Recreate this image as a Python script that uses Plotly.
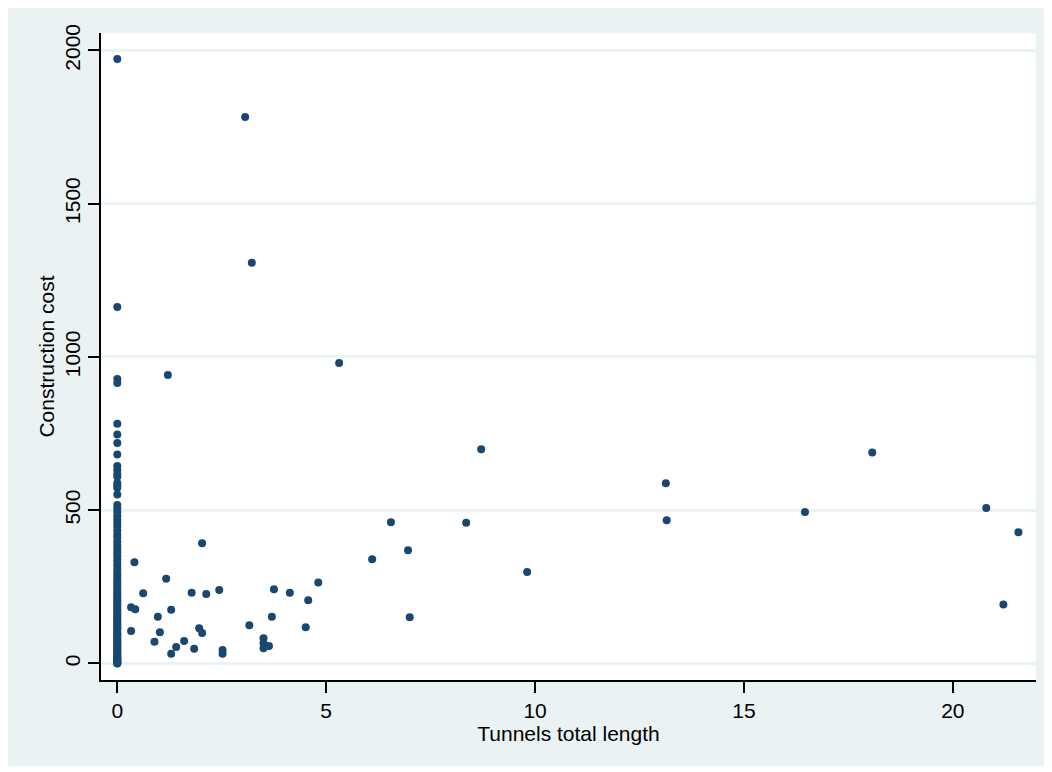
import plotly.graph_objects as go

# Points with zero tunnel length (x = 0)
zero_len_cost = [1972, 1163, 928, 915, 782, 747, 719, 682, 644, 631, 618, 609, 589, 581, 573, 551,
                 517, 506, 494, 481, 470, 458, 447, 434, 421, 411, 398, 386, 374, 363, 352, 341,
                 331, 320, 308, 297, 288, 279, 270, 262, 253, 246, 238, 231, 223, 216, 209, 202,
                 195, 188, 181, 174, 168, 161, 155, 149, 143, 137, 131, 125, 120, 114, 109, 103,
                 98, 93, 88, 83, 78, 73, 69, 64, 59, 55, 51, 46, 42, 38, 34, 30, 26, 23, 19, 16,
                 13, 10, 7, 5, 3, 1, 0]

# Points with positive tunnel length
tunnel_len = [3.06, 3.22, 5.31, 1.21, 8.71, 18.07, 13.13, 13.15, 16.46, 20.80, 6.55, 8.35, 21.57,
              6.96, 6.10, 9.81, 21.21, 7.00,
              2.03, 0.41, 1.17, 0.62, 1.78, 2.13, 2.44, 3.75, 4.13, 4.81, 4.57, 0.33, 0.43, 1.29,
              0.97, 3.70, 3.16, 4.51, 1.96, 2.03, 0.33, 1.02, 0.89, 1.60, 1.41, 1.84, 1.29, 2.52,
              2.52, 3.50, 3.50, 3.50, 3.63]
tunnel_cost = [1783, 1307, 980, 941, 699, 688, 588, 467, 494, 507, 461, 459, 428,
               369, 340, 298, 192, 151,
               392, 330, 276, 229, 231, 227, 240, 242, 231, 264, 206, 183, 177, 175,
               152, 152, 125, 118, 115, 99, 106, 102, 71, 73, 54, 48, 32, 44,
               32, 82, 66, 50, 57]

x_ticks = [0, 5, 10, 15, 20]
y_ticks = [0, 500, 1000, 1500, 2000]

x_vals = [0.0] * len(zero_len_cost) + tunnel_len
y_vals = zero_len_cost + tunnel_cost

FONT = "Liberation Sans, Arial, sans-serif"
BG = "#EAF2F3"
NAVY = "#1a476f"

fig = go.Figure()
fig.add_trace(go.Scatter(
    x=x_vals, y=y_vals, mode="markers",
    marker=dict(color=NAVY, size=8, line=dict(width=0)),
    showlegend=False,
))

fig.update_layout(
    width=1052, height=772,
    paper_bgcolor="white", plot_bgcolor="white",
    margin=dict(l=93, r=24, t=25, b=100, pad=0, autoexpand=False),
    font=dict(family=FONT, size=21, color="black"),
    shapes=[
        dict(type="rect", xref="paper", yref="paper", x0=-0.11, x1=1.0107, y0=-0.1329, y1=1.06,
             fillcolor=BG, line=dict(width=0), layer="below"),
        dict(type="rect", xref="paper", yref="paper", x0=0, x1=1, y0=0, y1=1,
             fillcolor="white", line=dict(width=0), layer="below"),
    ],
    xaxis=dict(
        range=[-0.39, 21.99], tickmode="array", tickvals=x_ticks,
        showgrid=False, zeroline=False, automargin=False,
        showline=True, linecolor="black", linewidth=1.5,
        ticks="outside", ticklen=11, tickwidth=1.5, tickcolor="black",
        tickfont=dict(family=FONT, size=21, color="black"),
        title=dict(text="Tunnels total length", font=dict(family=FONT, size=21, color="black"), standoff=0),
    ),
    yaxis=dict(
        range=[-54, 2057], tickmode="array", tickvals=y_ticks, tickangle=-90,
        showgrid=True, gridcolor=BG, gridwidth=2.5, zeroline=False, automargin=False,
        showline=True, linecolor="black", linewidth=1.5,
        ticks="outside", ticklen=11, tickwidth=1.5, tickcolor="black",
        tickfont=dict(family=FONT, size=21, color="black"),
        title=dict(text="Construction cost", font=dict(family=FONT, size=21, color="black"), standoff=0),
    ),
)

fig.write_html("out.html")
